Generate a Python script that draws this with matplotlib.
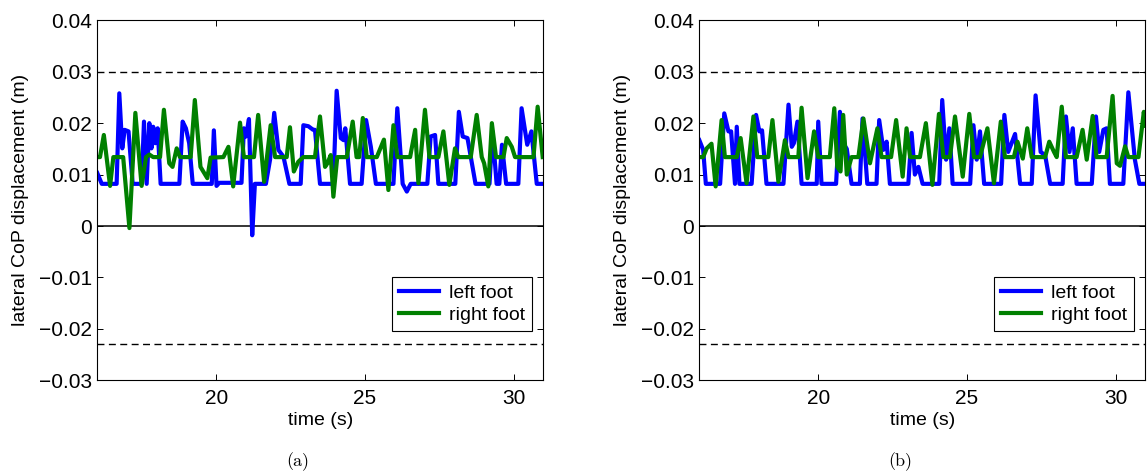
import matplotlib
matplotlib.use("Agg")
import matplotlib.pyplot as plt

plt.rcParams['font.family'] = ['Liberation Sans', 'DejaVu Sans']

# ---- data (time in s, lateral CoP in m) ----
# panel (a)
t_left_a = [16.00, 16.15, 16.65, 16.74, 16.84, 16.92, 17.05, 17.19, 17.49, 17.57,
            17.66, 17.75, 17.82, 17.88, 17.95, 18.03, 18.13, 18.76, 18.87, 18.98,
            19.09, 19.21, 19.85, 19.92, 20.01, 20.10, 20.85, 20.93, 21.00, 21.10,
            21.21, 21.30, 21.67, 21.81, 21.95, 22.09, 22.26, 22.46, 22.84, 22.93,
            23.10, 23.26, 23.32, 23.49, 23.94, 24.05, 24.19, 24.28, 24.34, 24.50,
            24.89, 25.04, 25.20, 25.37, 25.96, 26.09, 26.27, 26.41, 26.54, 27.10,
            27.21, 27.36, 27.47, 28.04, 28.16, 28.29, 28.45, 28.72, 29.19, 29.29,
            29.43, 29.52, 29.61, 29.75, 30.16, 30.27, 30.46, 30.60, 30.78, 31.00]
cop_left_a = [0.0103, 0.0082, 0.0082, 0.0258, 0.0151, 0.0187, 0.0184, 0.0082, 0.0082, 0.0203,
              0.0082, 0.0200, 0.0151, 0.0193, 0.0161, 0.0190, 0.0082, 0.0082, 0.0203, 0.0190,
              0.0161, 0.0082, 0.0082, 0.0186, 0.0078, 0.0084, 0.0084, 0.0190, 0.0174, 0.0208,
              -0.0018, 0.0082, 0.0082, 0.0129, 0.0220, 0.0148, 0.0135, 0.0082, 0.0082, 0.0196,
              0.0194, 0.0187, 0.0187, 0.0082, 0.0082, 0.0263, 0.0171, 0.0167, 0.0190, 0.0082,
              0.0082, 0.0206, 0.0154, 0.0082, 0.0082, 0.0229, 0.0082, 0.0067, 0.0082, 0.0082,
              0.0174, 0.0177, 0.0082, 0.0082, 0.0222, 0.0174, 0.0171, 0.0082, 0.0082, 0.0184,
              0.0082, 0.0082, 0.0158, 0.0082, 0.0082, 0.0229, 0.0158, 0.0184, 0.0082, 0.0082]

t_right_a = [16.00, 16.09, 16.22, 16.43, 16.54, 16.87, 17.08, 17.28, 17.49, 17.64,
             17.75, 17.88, 18.11, 18.24, 18.42, 18.53, 18.67, 18.78, 19.14, 19.28,
             19.47, 19.70, 19.81, 20.24, 20.41, 20.57, 20.80, 20.93, 21.27, 21.41,
             21.61, 21.83, 21.98, 22.37, 22.48, 22.61, 22.76, 22.93, 23.32, 23.49,
             23.66, 23.74, 23.85, 23.94, 24.07, 24.39, 24.59, 24.72, 24.81, 24.93,
             25.06, 25.40, 25.64, 25.79, 25.96, 26.09, 26.52, 26.69, 26.80, 27.02,
             27.17, 27.47, 27.64, 27.84, 28.03, 28.14, 28.56, 28.76, 28.93, 29.01,
             29.15, 29.27, 29.41, 29.66, 29.77, 29.94, 30.05, 30.67, 30.81, 30.98]
cop_right_a = [0.0134, 0.0134, 0.0177, 0.0078, 0.0134, 0.0134, -0.0004, 0.0220, 0.0078, 0.0134,
               0.0139, 0.0134, 0.0134, 0.0226, 0.0122, 0.0115, 0.0151, 0.0134, 0.0134, 0.0245,
               0.0115, 0.0093, 0.0133, 0.0134, 0.0154, 0.0077, 0.0201, 0.0134, 0.0134, 0.0216,
               0.0086, 0.0196, 0.0134, 0.0134, 0.0192, 0.0106, 0.0125, 0.0134, 0.0134, 0.0213,
               0.0115, 0.0122, 0.0138, 0.0057, 0.0134, 0.0134, 0.0203, 0.0134, 0.0134, 0.0210,
               0.0134, 0.0134, 0.0168, 0.0070, 0.0196, 0.0134, 0.0134, 0.0187, 0.0083, 0.0226,
               0.0134, 0.0134, 0.0184, 0.0080, 0.0151, 0.0134, 0.0134, 0.0216, 0.0134, 0.0122,
               0.0077, 0.0200, 0.0134, 0.0134, 0.0171, 0.0154, 0.0134, 0.0134, 0.0232, 0.0134]

# panel (b)
t_left_b = [16.00, 16.13, 16.22, 16.70, 16.84, 16.98, 17.07, 17.20, 17.26, 17.35,
            17.76, 17.91, 18.02, 18.11, 18.26, 18.83, 19.00, 19.11, 19.18, 19.30,
            19.44, 19.95, 20.00, 20.11, 20.60, 20.73, 20.84, 20.96, 21.12, 21.40,
            21.49, 21.65, 21.96, 22.05, 22.19, 22.30, 22.41, 23.03, 23.14, 23.25,
            23.37, 23.51, 24.07, 24.17, 24.30, 24.41, 24.52, 25.11, 25.22, 25.33,
            25.44, 25.58, 26.15, 26.26, 26.39, 26.62, 26.79, 27.18, 27.31, 27.48,
            27.63, 27.80, 28.22, 28.33, 28.45, 28.56, 28.69, 29.20, 29.34, 29.45,
            29.59, 29.70, 29.81, 30.26, 30.43, 30.65, 30.80, 31.00]
cop_left_b = [0.0167, 0.0148, 0.0082, 0.0082, 0.0219, 0.0184, 0.0184, 0.0082, 0.0193, 0.0082,
              0.0082, 0.0216, 0.0184, 0.0186, 0.0082, 0.0082, 0.0236, 0.0154, 0.0161, 0.0203,
              0.0082, 0.0082, 0.0203, 0.0082, 0.0082, 0.0222, 0.0161, 0.0150, 0.0082, 0.0082,
              0.0209, 0.0082, 0.0082, 0.0206, 0.0148, 0.0164, 0.0082, 0.0082, 0.0181, 0.0100,
              0.0115, 0.0082, 0.0082, 0.0245, 0.0129, 0.0190, 0.0082, 0.0082, 0.0196, 0.0129,
              0.0184, 0.0082, 0.0082, 0.0216, 0.0144, 0.0179, 0.0082, 0.0082, 0.0254, 0.0144,
              0.0138, 0.0082, 0.0082, 0.0213, 0.0144, 0.0190, 0.0082, 0.0082, 0.0213, 0.0144,
              0.0187, 0.0190, 0.0082, 0.0082, 0.0260, 0.0129, 0.0082, 0.0082]

t_right_b = [16.00, 16.13, 16.25, 16.41, 16.55, 16.75, 16.86, 17.26, 17.39, 17.59,
             17.82, 17.95, 18.32, 18.46, 18.66, 18.88, 19.00, 19.33, 19.44, 19.64,
             19.86, 20.00, 20.39, 20.54, 20.64, 20.75, 20.84, 20.96, 21.12, 21.35,
             21.52, 21.74, 21.99, 22.13, 22.45, 22.62, 22.84, 22.97, 23.09, 23.42,
             23.62, 23.84, 24.06, 24.21, 24.43, 24.60, 24.86, 25.08, 25.24, 25.44,
             25.69, 25.91, 26.14, 26.28, 26.58, 26.70, 26.88, 27.03, 27.18, 27.63,
             27.77, 27.93, 28.02, 28.19, 28.33, 28.69, 28.89, 29.03, 29.23, 29.36,
             29.70, 29.90, 30.04, 30.15, 30.32, 30.43, 30.77, 30.95, 31.00]
cop_right_b = [0.0134, 0.0134, 0.0151, 0.0160, 0.0077, 0.0206, 0.0134, 0.0134, 0.0171, 0.0083,
               0.0213, 0.0134, 0.0134, 0.0206, 0.0086, 0.0167, 0.0134, 0.0134, 0.0230, 0.0093,
               0.0184, 0.0134, 0.0134, 0.0229, 0.0115, 0.0106, 0.0216, 0.0100, 0.0134, 0.0134,
               0.0209, 0.0122, 0.0190, 0.0134, 0.0134, 0.0206, 0.0096, 0.0190, 0.0134, 0.0134,
               0.0200, 0.0080, 0.0218, 0.0134, 0.0134, 0.0213, 0.0096, 0.0218, 0.0134, 0.0134,
               0.0190, 0.0083, 0.0203, 0.0134, 0.0134, 0.0164, 0.0131, 0.0190, 0.0134, 0.0134,
               0.0164, 0.0144, 0.0134, 0.0232, 0.0134, 0.0134, 0.0187, 0.0129, 0.0214, 0.0134,
               0.0134, 0.0253, 0.0122, 0.0117, 0.0155, 0.0134, 0.0134, 0.0222, 0.0195]

cop_upper = 0.03      # dashed bounds
cop_lower = -0.023
y_ticks = [-0.03, -0.02, -0.01, 0, 0.01, 0.02, 0.03, 0.04]
y_ticklabels = ['\u22120.03', '\u22120.02', '\u22120.01', '0', '0.01', '0.02', '0.03', '0.04']
x_ticks = [20, 25, 30]
captions = ['(a)', '(b)']

panels = [(t_left_a, cop_left_a, t_right_a, cop_right_a),
          (t_left_b, cop_left_b, t_right_b, cop_right_b)]

W, H = 1148, 473
fig = plt.figure(figsize=(W / 100, H / 100), dpi=100)

ax_left_px = [97.3, 699.3]
ax_w_px, ax_top_px, ax_h_px = 446, 20.3, 360

for k, (tl, yl, tr, yr) in enumerate(panels):
    ax = fig.add_axes([ax_left_px[k] / W, (H - ax_top_px - ax_h_px) / H, ax_w_px / W, ax_h_px / H])

    ax.axhline(cop_upper, color='k', lw=1.0, ls=(0, (5, 3.2)))
    ax.axhline(cop_lower, color='k', lw=1.0, ls=(0, (5, 3.2)))
    ax.axhline(0, color='k', lw=1.1)

    ax.plot(tl, yl, color=(0, 0, 1), lw=3.0, label='left foot')
    ax.plot(tr, yr, color=(0, 0.5, 0), lw=3.0, label='right foot')

    ax.set_xlim(16, 31)
    ax.set_ylim(-0.03, 0.04)
    ax.set_xticks(x_ticks)
    ax.set_yticks(y_ticks)
    ax.set_yticklabels(y_ticklabels)
    ax.tick_params(direction='in', top=True, right=True, length=4, width=0.7,
                   labelsize=15)
    ax.tick_params(axis='x', pad=6)
    ax.tick_params(axis='y', pad=4)
    for s in ax.spines.values():
        s.set_linewidth(0.8)

    ax.set_xlabel('time (s)', fontsize=14)
    ax.xaxis.set_label_coords(0.5, -0.113)
    ax.xaxis.label.set_va('center')
    ax.set_ylabel('lateral CoP displacement (m)', fontsize=14)
    ax.yaxis.set_label_coords(-0.173, 0.5)
    ax.yaxis.label.set_va('center')

    leg = ax.legend(loc='lower right', bbox_to_anchor=(0.975, 0.137), borderaxespad=0,
                    fontsize=14, fancybox=False, edgecolor='k', framealpha=1,
                    handlelength=2.1, handletextpad=0.5, labelspacing=0.25,
                    borderpad=0.35)
    leg.get_frame().set_linewidth(0.8)

    fig.text((ax_left_px[k] + 200.7) / W, (H - 462) / H, captions[k],
             family='cmr10', fontsize=13, ha='center', va='center')

fig.savefig('out.png', dpi=100)
